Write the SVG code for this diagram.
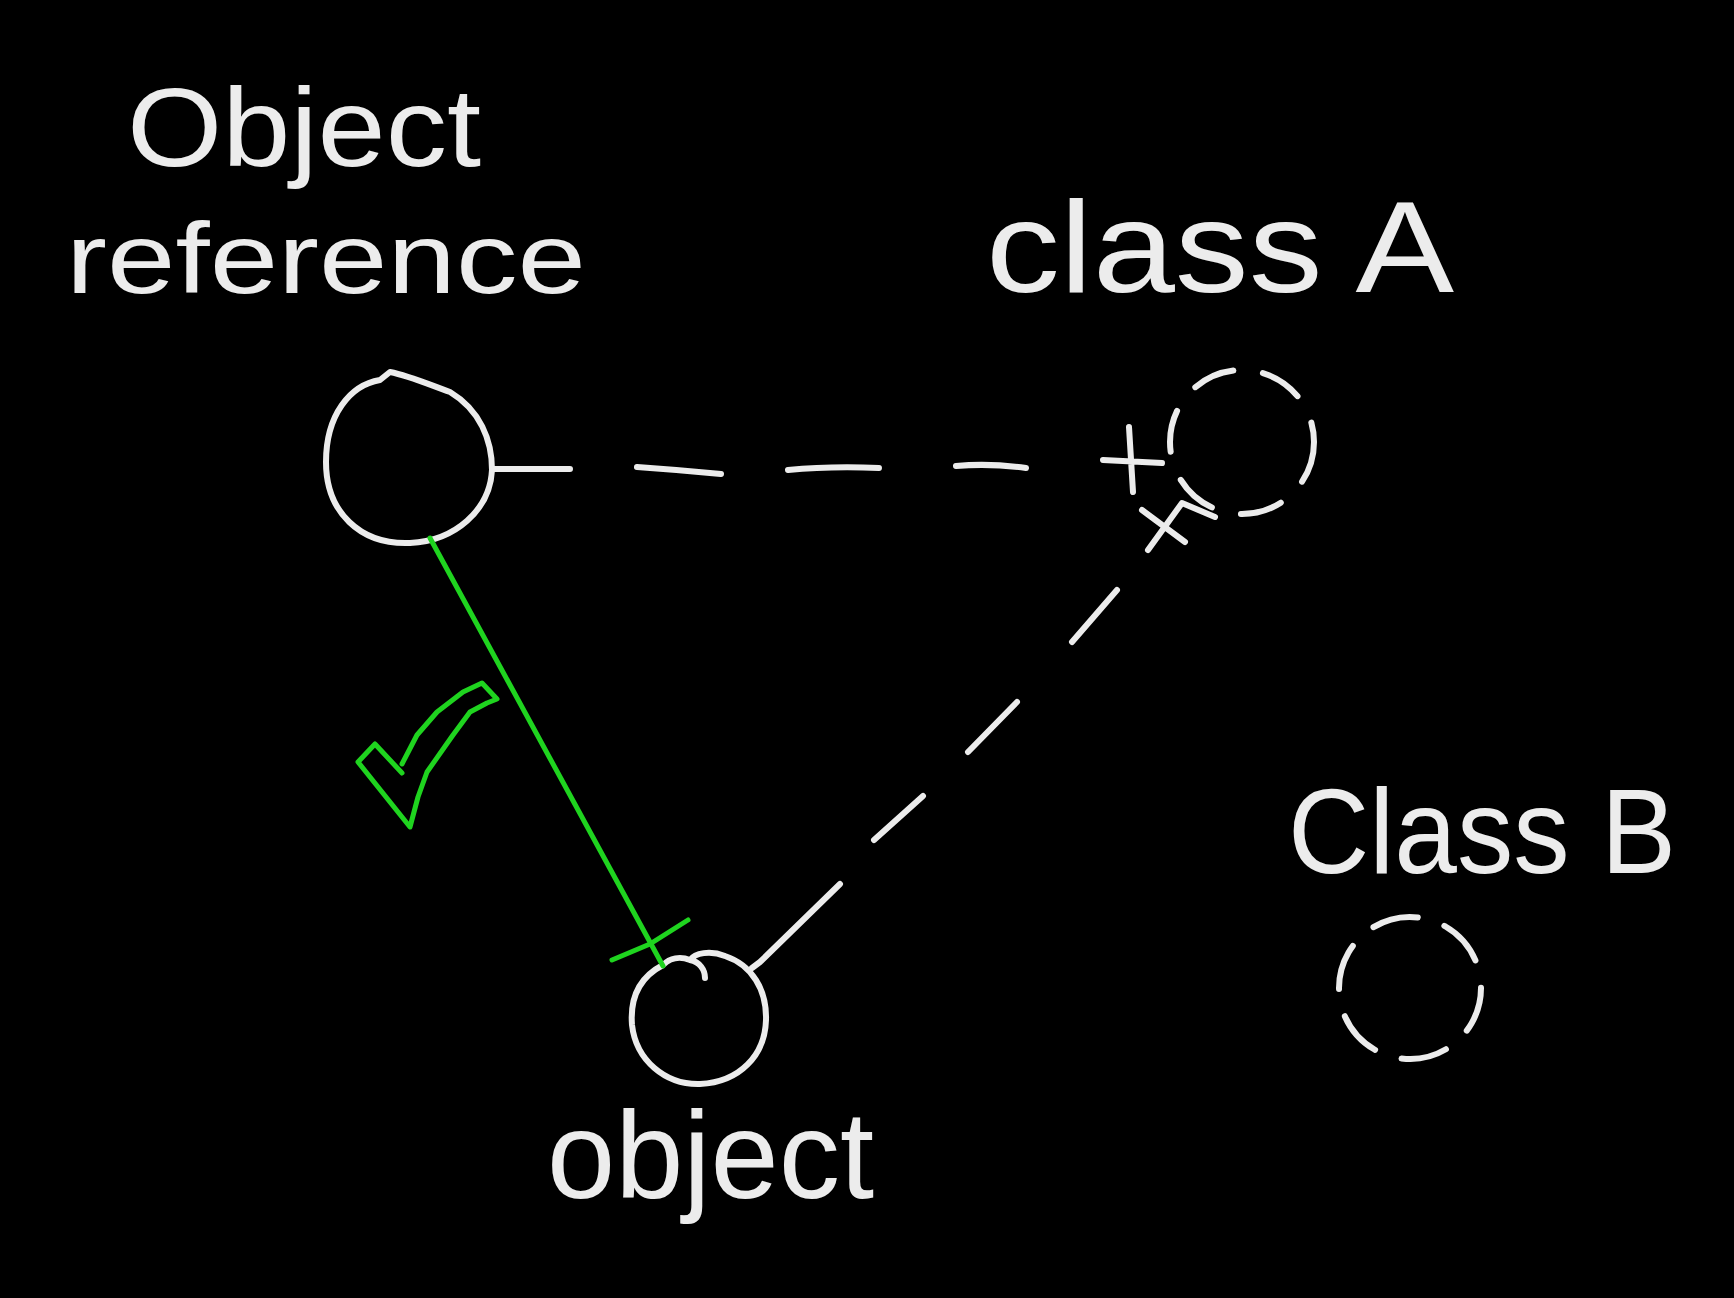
<svg xmlns="http://www.w3.org/2000/svg" width="1734" height="1298" viewBox="0 0 1734 1298">
<style>
.ch{fill:none;stroke:#ececec;stroke-width:6;stroke-linecap:round;stroke-linejoin:round}
.gr{fill:none;stroke:#1fd41f;stroke-width:5;stroke-linecap:round;stroke-linejoin:round}
.t{font-family:"Liberation Sans",Arial,sans-serif;fill:#ececec}
.dc{fill:none;stroke:#ececec;stroke-width:6;stroke-linecap:round}
</style>
<rect width="1734" height="1298" fill="#000"/>
<g id="label-object-reference">
<text class="t" x="127" y="166" font-size="112" textLength="354" lengthAdjust="spacingAndGlyphs">Object</text>
<text class="t" x="66" y="293" font-size="100" textLength="520" lengthAdjust="spacingAndGlyphs">reference</text>
</g>
<g id="label-class-a">
<text class="t" x="986" y="292" font-size="130" textLength="468" lengthAdjust="spacingAndGlyphs">class A</text>
</g>
<g id="label-class-b">
<text class="t" x="1288" y="873" font-size="120" textLength="388" lengthAdjust="spacingAndGlyphs">Class B</text>
</g>
<g id="label-object">
<text class="t" x="547" y="1198" font-size="125" textLength="327" lengthAdjust="spacingAndGlyphs">object</text>
</g>
<g id="node-object-reference">
<path class="ch" d="M410 543 C360 545 326 512 326 462 C326 415 350 385 380 380 L390 372 C410 376 430 385 450 392 C480 410 492 440 492 470 C490 510 455 541 410 543 Z"/>
</g>
<g id="node-class-a">
<circle class="dc" cx="1242" cy="442" r="72" stroke-dasharray="42 30"/>
</g>
<g id="node-class-b">
<circle class="dc" cx="1410" cy="988" r="71" stroke-dasharray="46 28" transform="rotate(-60 1410 988)"/>
</g>
<g id="node-object">
<path class="ch" d="M663 965 C638 978 630 1000 632 1025 C636 1060 665 1085 700 1084 C740 1082 765 1055 766 1020 C767 990 752 965 725 956 C710 950 695 953 690 960 C700 962 705 970 705 978 M690 960 C680 956 670 958 663 965"/>
</g>
<g id="connectors">
<path class="ch" d="M493 469 L570 469 M637 467 Q680 470 721 474 M788 470 Q830 466 879 468 M956 466 Q990 463 1026 468"/>
<path class="ch" d="M1129 427 L1133 492 M1103 460 L1162 463"/>
<path class="ch" d="M752 968 L760 962 L840 884 M874 840 L923 796 M968 752 L1017 702 M1072 642 L1117 590"/>
<path class="ch" d="M1142 510 L1185 542 M1148 550 L1182 503 L1215 517"/>
<path class="gr" d="M430 538 L663 966"/>
<path class="gr" d="M612 960 L650 944 L688 920"/>
<path class="gr" d="M402 764 L417 735 L437 712 L463 692 L482 683 L497 699 L487 703 L470 712 L453 735 L427 772 L418 797 L410 827 L358 762 L375 744 L402 773"/>
</g>
</svg>
